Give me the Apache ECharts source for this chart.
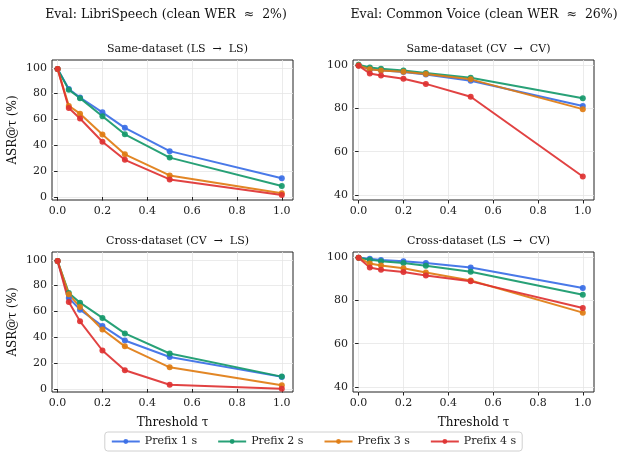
<!DOCTYPE html>
<html>
<head>
<meta charset="utf-8">
<script src="https://cdn.jsdelivr.net/npm/echarts@6/dist/echarts.min.js"></script>
<style>
  html, body { margin: 0; padding: 0; background: #fff; }
  #chart { width: 627px; height: 458px; }
</style>
</head>
<body>
<div id="chart"></div>
<script>
const thresholds = [0, 0.05, 0.1, 0.2, 0.3, 0.5, 1.0]
const prefixNames = ['Prefix 1 s', 'Prefix 2 s', 'Prefix 3 s', 'Prefix 4 s']
const colors = ['#3a6ee6', '#16996b', '#e07c12', '#de3232']

const xTicks = [0, 0.2, 0.4, 0.6, 0.8, 1.0]
const yTicksLS = [0, 20, 40, 60, 80, 100]
const yTicksCV = [40, 60, 80, 100]

// Eval LibriSpeech, same-dataset (LS -> LS)
const lsSame = [
  [99, 83.5, 77, 65.5, 53.5, 35.5, 14.5],
  [99, 83, 76.5, 62.5, 48.5, 30.5, 8.5],
  [99, 70.5, 64.5, 48.3, 33, 16.7, 3],
  [99, 68.8, 60.7, 42.8, 28.8, 13.6, 1.5]
]
// Eval Common Voice, same-dataset (CV -> CV)
const cvSame = [
  [99.7, 98, 97.5, 96.7, 95.5, 92.7, 81],
  [100, 98.8, 98.2, 97.4, 96.2, 94, 84.6],
  [99.7, 97.9, 97.4, 96.8, 95.8, 93.3, 79.6],
  [99.6, 96, 95.1, 93.6, 91.2, 85.3, 48.6]
]
// Eval LibriSpeech, cross-dataset (CV -> LS)
const lsCross = [
  [99, 70.4, 61.4, 48.8, 37.5, 24.8, 9.4],
  [99, 74.3, 66.8, 55, 43, 27.5, 9.6],
  [99, 73.3, 63.5, 46, 33, 16.8, 3],
  [99, 67.4, 52.4, 29.8, 14.5, 3.3, 0.3]
]
// Eval Common Voice, cross-dataset (LS -> CV)
const cvCross = [
  [99.6, 99.1, 98.5, 98, 97.1, 95.1, 85.6],
  [99.6, 98.6, 98, 97.1, 95.9, 93.1, 82.5],
  [99.6, 96.9, 96, 94.7, 92.8, 89.1, 74.3],
  [99.6, 95.1, 94, 93, 91.4, 88.7, 76.4]
]

const panels = [
  { title: 'Same-dataset (LS  →  LS)', data: lsSame, left: 52, top: 60, yTicks: yTicksLS, ymin: -2.3, ymax: 106 },
  { title: 'Same-dataset (CV  →  CV)', data: cvSame, left: 353, top: 60, yTicks: yTicksCV, ymin: 37.8, ymax: 102.2 },
  { title: 'Cross-dataset (CV  →  LS)', data: lsCross, left: 52, top: 252, yTicks: yTicksLS, ymin: -2.3, ymax: 106 },
  { title: 'Cross-dataset (LS  →  CV)', data: cvCross, left: 353, top: 252, yTicks: yTicksCV, ymin: 37.8, ymax: 102.2 }
]

const font = 'DejaVu Serif'
const plotW = 241
const plotH = 140

const grids = []
const xAxes = []
const yAxes = []
const series = []
const titles = [
  { text: 'Eval: LibriSpeech (clean WER  ≈  2%)', left: 161, top: 3, textAlign: 'center',
    textStyle: { fontFamily: font, fontSize: 12.5, fontWeight: 'normal', color: '#111' } },
  { text: 'Eval: Common Voice (clean WER  ≈  26%)', left: 479, top: 3, textAlign: 'center',
    textStyle: { fontFamily: font, fontSize: 12.5, fontWeight: 'normal', color: '#111' } }
]

panels.forEach((p, i) => {
  grids.push({
    left: p.left, top: p.top, width: plotW, height: plotH,
    show: true, borderColor: '#222', borderWidth: 1, backgroundColor: 'transparent'
  })
  titles.push({
    text: p.title, left: p.left + plotW / 2, top: p.top - 21, textAlign: 'center',
    textStyle: { fontFamily: font, fontSize: 11, fontWeight: 'normal', color: '#111' }
  })
  const bottomRow = i >= 2
  xAxes.push({
    type: 'value', gridIndex: i, min: -0.025, max: 1.05,
    name: bottomRow ? 'Threshold τ' : '',
    nameLocation: 'middle', nameGap: 25,
    nameTextStyle: { fontFamily: font, fontSize: 12, color: '#111' },
    axisLine: { show: false },
    axisTick: { show: true, length: 3.5, customValues: xTicks, lineStyle: { color: '#222' } },
    axisLabel: {
      customValues: xTicks, fontFamily: font, fontSize: 11, color: '#222', margin: 6,
      formatter: v => v.toFixed(1)
    },
    splitLine: { show: true, lineStyle: { color: '#e6e6e6', width: 0.8 } }
  })
  const leftCol = i % 2 === 0
  yAxes.push({
    type: 'value', gridIndex: i, min: p.ymin, max: p.ymax,
    name: leftCol ? 'ASR@τ (%)' : '',
    nameLocation: 'middle', nameGap: 33, nameRotate: 90,
    nameTextStyle: { fontFamily: font, fontSize: 12, color: '#111' },
    axisLine: { show: false },
    axisTick: { show: true, length: 3.5, customValues: p.yTicks, lineStyle: { color: '#222' } },
    axisLabel: { customValues: p.yTicks, fontFamily: font, fontSize: 11, color: '#222', margin: 5 },
    splitLine: { show: true, lineStyle: { color: '#e6e6e6', width: 0.8 } }
  })
  p.data.forEach((vals, k) => {
    series.push({
      name: prefixNames[k], type: 'line', xAxisIndex: i, yAxisIndex: i,
      data: thresholds.map((t, j) => [t, vals[j]]),
      symbol: 'circle', symbolSize: 6,
      lineStyle: { width: 2, color: colors[k], opacity: 0.92 },
      itemStyle: { color: colors[k], opacity: 0.92 },
      emphasis: { disabled: true },
      animation: false
    })
  })
})

const chart = echarts.init(document.getElementById('chart'))
chart.setOption({
  animation: false,
  title: titles,
  grid: grids,
  xAxis: xAxes,
  yAxis: yAxes,
  legend: {
    data: prefixNames, bottom: 7, left: 'center',
    itemWidth: 28, itemHeight: 6, itemGap: 20,
    borderColor: '#d0d0d0', borderWidth: 1, borderRadius: 3,
    padding: [4, 6],
    textStyle: { fontFamily: font, fontSize: 11, color: '#222' }
  },
  series: series
})
</script>
</body>
</html>
